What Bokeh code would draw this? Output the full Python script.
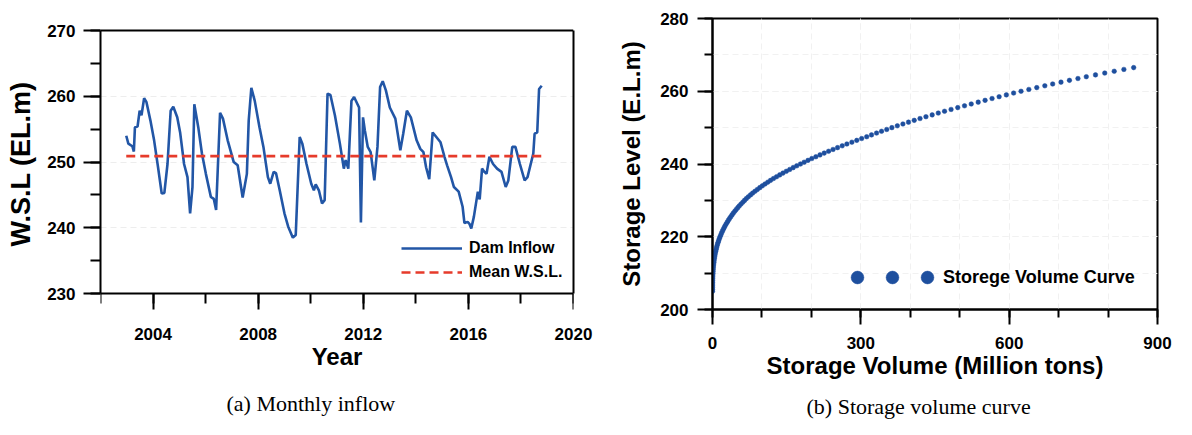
from bokeh.plotting import figure
from bokeh.models import (SingleIntervalTicker, FixedTicker, Legend, LegendItem, Range1d,
                          Span, LinearAxis, Title)
from bokeh.layouts import row
from bokeh.embed import file_html
from bokeh.resources import INLINE
from bokeh.core.properties import value

# ---------------- data: (a) monthly water surface level ----------------
YEARS = [2002.98, 2003.06, 2003.21, 2003.27, 2003.31, 2003.41, 2003.49, 2003.56, 2003.66, 2003.75,
         2003.90, 2004.04, 2004.19, 2004.33, 2004.43, 2004.55, 2004.67, 2004.77, 2004.92, 2005.03,
         2005.18, 2005.31, 2005.41, 2005.50, 2005.57, 2005.72, 2005.86, 2006.01, 2006.20, 2006.31,
         2006.40, 2006.55, 2006.66, 2006.84, 2007.07, 2007.22, 2007.41, 2007.57, 2007.64, 2007.74,
         2007.87, 2008.05, 2008.20, 2008.37, 2008.46, 2008.59, 2008.68, 2008.82, 2009.00, 2009.14,
         2009.32, 2009.43, 2009.58, 2009.68, 2009.84, 2010.02, 2010.12, 2010.19, 2010.31, 2010.43,
         2010.53, 2010.64, 2010.75, 2010.92, 2011.11, 2011.26, 2011.33, 2011.43, 2011.55, 2011.65,
         2011.84, 2011.91, 2011.99, 2012.06, 2012.17, 2012.28, 2012.42, 2012.54, 2012.64, 2012.74,
         2012.86, 2013.01, 2013.22, 2013.41, 2013.52, 2013.66, 2013.81, 2014.03, 2014.17, 2014.29,
         2014.39, 2014.51, 2014.64, 2014.78, 2014.94, 2015.09, 2015.19, 2015.34, 2015.45, 2015.63,
         2015.78, 2015.85, 2015.97, 2016.04, 2016.11, 2016.21, 2016.36, 2016.43, 2016.52, 2016.61,
         2016.69, 2016.80, 2016.94, 2017.09, 2017.26, 2017.42, 2017.52, 2017.67, 2017.79, 2017.96,
         2018.14, 2018.25, 2018.47, 2018.52, 2018.62, 2018.69, 2018.79]
WSL = [254.0, 252.8, 252.4, 251.6, 255.3, 255.4, 257.8, 257.1, 259.7, 259.1,
       256.3, 253.3, 249.2, 245.2, 245.3, 249.7, 257.8, 258.4, 256.8, 254.5,
       249.7, 247.7, 242.2, 246.2, 258.8, 255.3, 251.3, 248.2, 244.7, 244.4,
       242.7, 257.5, 256.6, 253.3, 250.0, 249.5, 244.6, 248.2, 256.3, 261.3,
       259.3, 255.3, 252.3, 247.7, 246.7, 248.5, 248.3, 245.7, 242.2, 240.2,
       238.5, 238.9, 253.8, 252.8, 249.7, 246.7, 245.7, 246.6, 245.7, 243.7,
       244.2, 260.4, 260.2, 257.1, 252.8, 249.0, 250.3, 249.0, 259.3, 259.9,
       258.3, 240.8, 256.8, 254.8, 252.3, 251.5, 247.2, 252.3, 261.4, 262.3,
       260.9, 258.3, 256.6, 251.8, 254.3, 257.8, 256.8, 253.3, 252.0, 251.5,
       249.2, 247.4, 254.5, 253.8, 253.0, 250.8, 249.5, 247.7, 246.2, 245.5,
       243.2, 240.7, 240.9, 240.6, 239.9, 241.7, 245.5, 244.3, 249.0, 248.5,
       248.2, 250.8, 249.7, 249.0, 248.5, 246.2, 247.2, 252.3, 252.3, 249.7,
       247.2, 247.7, 251.3, 254.3, 254.5, 261.1, 261.6]
MEAN_WSL = 250.9
WSL_AXIS = (230, 270)
YEAR_AXIS = (2002, 2020)

# ---------------- data: (b) storage volume curve ----------------
LEVELS = [205.0, 205.5, 206.0, 206.5, 207.0, 207.5, 208.0, 208.5, 209.0, 209.5,
          210.0, 210.5, 211.0, 211.5, 212.0, 212.5, 213.0, 213.5, 214.0, 214.5,
          215.0, 215.5, 216.0, 216.5, 217.0, 217.5, 218.0, 218.5, 219.0, 219.5,
          220.0, 220.5, 221.0, 221.5, 222.0, 222.5, 223.0, 223.5, 224.0, 224.5,
          225.0, 225.5, 226.0, 226.5, 227.0, 227.5, 228.0, 228.5, 229.0, 229.5,
          230.0, 230.5, 231.0, 231.5, 232.0, 232.5, 233.0, 233.5, 234.0, 234.5,
          235.0, 235.5, 236.0, 236.5, 237.0, 237.5, 238.0, 238.5, 239.0, 239.5,
          240.0, 240.5, 241.0, 241.5, 242.0, 242.5, 243.0, 243.5, 244.0, 244.5,
          245.0, 245.5, 246.0, 246.5, 247.0, 247.5, 248.0, 248.5, 249.0, 249.5,
          250.0, 250.5, 251.0, 251.5, 252.0, 252.5, 253.0, 253.5, 254.0, 254.5,
          255.0, 255.5, 256.0, 256.5, 257.0, 257.5, 258.0, 258.5, 259.0, 259.5,
          260.0, 260.5, 261.0, 261.5, 262.0, 262.5, 263.0, 263.5, 264.0, 264.5,
          265.0, 265.5, 266.0, 266.5]
VOLUMES = [0.0, 0.0, 0.02, 0.04, 0.08, 0.13, 0.2, 0.3, 0.42, 0.57,
           0.76, 0.98, 1.23, 1.52, 1.86, 2.25, 2.68, 3.16, 3.7, 4.29,
           4.94, 5.65, 6.43, 7.28, 8.2, 9.18, 10.2, 11.4, 12.6, 13.9,
           15.3, 16.8, 18.3, 20.0, 21.7, 23.6, 25.5, 27.6, 29.8, 32.0,
           34.4, 36.9, 39.5, 42.2, 45.0, 48.0, 51.1, 54.3, 57.7, 61.2,
           64.8, 68.5, 72.5, 76.9, 81.2, 85.9, 90.7, 95.7, 100.8, 106.2,
           111.7, 117.4, 123.3, 129.5, 135.9, 142.5, 149.3, 156.2, 163.2, 170.4,
           177.9, 185.4, 193.2, 200.9, 209.1, 217.4, 225.9, 234.8, 243.8, 252.9,
           262.4, 271.8, 281.9, 291.8, 301.7, 311.9, 321.6, 331.8, 341.9, 352.4,
           362.8, 373.8, 385.1, 396.4, 408.0, 419.7, 431.7, 444.3, 456.6, 469.3,
           482.5, 496.0, 509.7, 523.3, 537.4, 551.3, 565.4, 579.7, 594.3, 609.0,
           624.0, 639.8, 655.8, 672.1, 688.0, 704.8, 721.9, 739.1, 756.0, 774.6,
           793.3, 812.5, 832.0, 851.8]

SANS = "Liberation Sans"
SERIF = "Liberation Serif"
BLUE_LINE = "#2256a6"
BLUE_DOT = "#1e4f9e"
RED = "#e63b2b"


def style_axis(ax, major_out, minor_out, standoff, label_size, label_standoff):
    ax.axis_line_color = "black"
    ax.axis_line_width = 2
    ax.major_tick_line_color = "black"
    ax.major_tick_line_width = 2
    ax.major_tick_in = 0
    ax.major_tick_out = major_out
    ax.minor_tick_line_color = "black"
    ax.minor_tick_line_width = 2
    ax.minor_tick_in = 0
    ax.minor_tick_out = minor_out
    ax.major_label_text_font = SANS
    ax.major_label_text_font_style = "bold"
    ax.major_label_text_font_size = "17px"
    ax.major_label_text_color = "black"
    ax.major_label_standoff = standoff
    ax.axis_label_text_font = SANS
    ax.axis_label_text_font_style = "bold"
    ax.axis_label_text_font_size = label_size
    ax.axis_label_text_color = "black"
    ax.axis_label_standoff = label_standoff


def caption(text, offset, standoff):
    return Title(text=text, align="left", offset=offset, standoff=standoff,
                 text_font=SERIF, text_font_style="normal", text_font_size="22px",
                 text_color="black")


# Both plots share the same frame top/bottom (a row aligns frames); the left panel's
# smaller box is drawn by bounded axes inside that frame.
# ---------------- (a) ----------------
p1 = figure(width=600, height=435, x_range=Range1d(*YEAR_AXIS), y_range=Range1d(227.57, 271.83),
            output_backend="svg", toolbar_location=None, title=None,
            min_border_left=100, min_border_right=27, min_border_top=18, min_border_bottom=126)
p1.outline_line_color = None
p1.background_fill_color = "white"
p1.border_fill_color = "white"

year_ticker = SingleIntervalTicker(interval=4, num_minor_ticks=2)
p1.xaxis.ticker = year_ticker
p1.yaxis.ticker = SingleIntervalTicker(interval=10, num_minor_ticks=2)
p1.xaxis.axis_label = "Year"
p1.yaxis.axis_label = "W.S.L (EL.m)"
# bottom axis at the frame edge: only its tick labels and title are shown
style_axis(p1.xaxis[0], 0, 0, 18, "24px", 0)
p1.xaxis[0].axis_line_color = None
p1.xaxis[0].major_tick_line_color = None
p1.xaxis[0].minor_tick_line_color = None
style_axis(p1.yaxis[0], 17, 10, 8, "27px", 8)
p1.yaxis[0].bounds = WSL_AXIS
p1.xgrid.visible = False
p1.ygrid.grid_line_color = "#ededed"
p1.ygrid.grid_line_dash = "6 4"
p1.ygrid.grid_line_width = 1

# box: right edge (bounded empty axis) and top edge
right_edge = LinearAxis(ticker=FixedTicker(ticks=[]), bounds=WSL_AXIS,
                        axis_line_color="black", axis_line_width=2,
                        major_tick_line_color=None, minor_tick_line_color=None,
                        major_label_text_font_size="0px")
p1.add_layout(right_edge, "right")
p1.add_layout(Span(location=WSL_AXIS[1], dimension="width", line_color="black", line_width=2))

r_flow = p1.line(YEARS, WSL, line_color=BLUE_LINE, line_width=2.6)
r_mean = p1.line([YEARS[0], YEARS[-1]], [MEAN_WSL, MEAN_WSL], line_color=RED,
                 line_width=2.6, line_dash="9 5")

leg1 = Legend(items=[LegendItem(label=value("Dam Inflow"), renderers=[r_flow]),
                     LegendItem(label=value("Mean W.S.L."), renderers=[r_mean])],
              location=(301, 27), glyph_width=61, glyph_height=20, label_height=20,
              spacing=4, padding=0, margin=0, label_standoff=7,
              border_line_alpha=0, background_fill_alpha=0,
              label_text_font=SANS, label_text_font_style="bold",
              label_text_font_size="16px", label_text_color="black")
p1.add_layout(leg1)
p1.add_layout(caption("(a) Monthly inflow", 126, 32), "below")

# bottom edge of the box with its ticks, at W.S.L. = 230
x_line = LinearAxis(ticker=year_ticker, fixed_location=WSL_AXIS[0])
style_axis(x_line, 19, 10, 0, "1px", 0)
x_line.major_label_text_color = None
p1.add_layout(x_line, "below")

# ---------------- (b) ----------------
p2 = figure(width=592, height=435, x_range=Range1d(0, 900), y_range=Range1d(200, 280),
            output_backend="svg", toolbar_location=None, title=None,
            min_border_left=112, min_border_right=35, min_border_top=18, min_border_bottom=126)
p2.outline_line_color = "black"
p2.outline_line_width = 2
p2.outline_line_alpha = 1
p2.background_fill_color = "white"
p2.border_fill_color = "white"

p2.xaxis.ticker = SingleIntervalTicker(interval=300, num_minor_ticks=3)
p2.yaxis.ticker = SingleIntervalTicker(interval=20, num_minor_ticks=2)
p2.xaxis.axis_label = "Storage Volume (Million tons)"
p2.yaxis.axis_label = "Storage Level (E.L.m)"
style_axis(p2.xaxis[0], 15, 8, 12, "24px", 0)
style_axis(p2.yaxis[0], 15, 8, 9, "24px", 12)
for g in (p2.xgrid[0], p2.ygrid[0]):
    g.grid_line_color = "#f1f1f1"
    g.grid_line_dash = "6 4"
    g.minor_grid_line_color = "#f1f1f1"
    g.minor_grid_line_dash = "6 4"

r_curve = p2.scatter(VOLUMES, LEVELS, size=4.6, fill_color=BLUE_DOT, line_color=BLUE_DOT,
                     line_width=0.5)

leg2 = Legend(items=[LegendItem(label=value(""), renderers=[r_curve]),
                     LegendItem(label=value(""), renderers=[r_curve]),
                     LegendItem(label=value("Storege Volume Curve"), renderers=[r_curve])],
              orientation="horizontal", location=(129, 16), glyph_width=32, glyph_height=32,
              label_width=0, label_height=20, spacing=3, padding=0, margin=0, label_standoff=0,
              border_line_alpha=0, background_fill_alpha=0,
              label_text_font=SANS, label_text_font_style="bold",
              label_text_font_size="18px", label_text_color="black")
p2.add_layout(leg2)
p2.add_layout(caption("(b) Storage volume curve", 94, 20), "below")

layout = row(p1, p2)
open("out.html", "w").write(file_html(layout, INLINE))
